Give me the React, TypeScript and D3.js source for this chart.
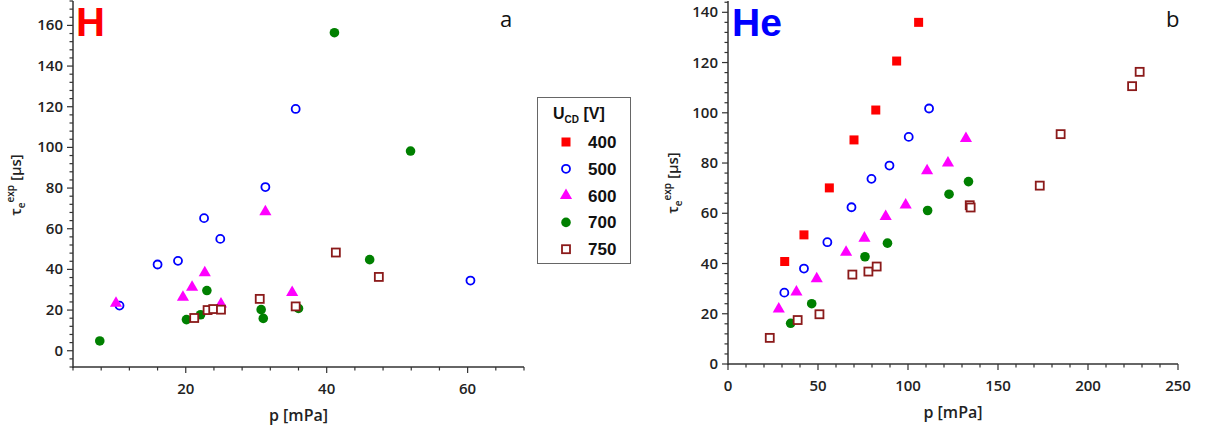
import React from "react";
import * as d3 from "d3";

type Pt = [number, number];

// H panel (a)
const H_500: Pt[] = [[10.6, 22.2], [16.0, 42.4], [18.9, 44.2], [22.6, 65.2], [24.9, 55.0], [31.3, 80.5], [35.6, 118.9], [60.4, 34.5]];
const H_600: Pt[] = [[10.1, 23.3], [19.6, 26.3], [20.9, 31.2], [22.7, 38.4], [25.0, 23.0], [31.3, 68.4], [35.1, 28.6]];
const H_700: Pt[] = [[7.8, 4.8], [20.1, 15.3], [22.1, 17.7], [23.0, 29.6], [30.7, 20.2], [31.0, 15.9], [36.0, 20.8], [41.1, 156.4], [46.1, 44.8], [51.9, 98.2]];
const H_750: Pt[] = [[21.2, 16.1], [23.1, 20.0], [23.9, 20.5], [25.0, 20.2], [30.5, 25.5], [35.6, 21.8], [41.3, 48.3], [47.4, 36.3]];

// He panel (b)
const He_400: Pt[] = [[31.5, 40.8], [42.2, 51.4], [56.3, 70.1], [70.0, 89.2], [82.1, 101.1], [93.7, 120.6], [105.9, 136.0]];
const He_500: Pt[] = [[31.3, 28.4], [42.2, 38.0], [55.2, 48.5], [68.6, 62.4], [79.7, 73.7], [89.7, 79.0], [100.4, 90.4], [111.7, 101.7]];
const He_600: Pt[] = [[28.2, 21.9], [38.0, 28.7], [49.3, 33.9], [65.6, 44.5], [75.8, 50.1], [87.6, 58.7], [98.7, 63.3], [110.6, 76.9], [122.2, 80.0], [132.2, 89.8]];
const He_700: Pt[] = [[34.8, 16.2], [46.5, 24.0], [76.1, 42.7], [88.6, 48.1], [110.9, 61.1], [122.8, 67.6], [133.6, 72.6]];
const He_750: Pt[] = [[23.2, 10.4], [38.7, 17.5], [50.8, 19.8], [69.1, 35.6], [78.0, 36.8], [82.6, 38.8], [134.3, 63.2], [134.8, 62.3], [173.2, 71.0], [184.8, 91.5], [224.5, 110.6], [228.7, 116.3]];

const legendLabels = ["400", "500", "600", "700", "750"];
const xTicksA = [20, 40, 60];
const yTicksA = [0, 20, 40, 60, 80, 100, 120, 140, 160];
const xTicksB = [0, 50, 100, 150, 200, 250];
const yTicksB = [0, 20, 40, 60, 80, 100, 120, 140];

const COLORS: Record<string, string> = {
  "400": "#ff0000",
  "500": "#0000ff",
  "600": "#ff00ff",
  "700": "#008000",
  "750": "#8b1a1a",
};

const FONT = "'Open Sans', sans-serif";

function Marker({ kind, x, y }: { kind: string; x: number; y: number }) {
  const c = COLORS[kind];
  if (kind === "400") return <rect x={x - 4.5} y={y - 4.5} width={9} height={9} fill={c} />;
  if (kind === "500") return <circle cx={x} cy={y} r={4} fill="none" stroke={c} strokeWidth={1.8} />;
  if (kind === "600") {
    const tri = d3.symbol().type(d3.symbolTriangle).size(64)();
    return <path d={tri as string} transform={`translate(${x},${y})`} fill={c} />;
  }
  if (kind === "700") return <circle cx={x} cy={y} r={4.8} fill={c} />;
  return <rect x={x - 4} y={y - 4} width={8} height={8} fill="white" stroke={c} strokeWidth={1.8} />;
}

function Panel(props: {
  x0: number; x1: number; y0: number; y1: number;
  xDom: [number, number]; yDom: [number, number];
  xTicks: number[]; yTicks: number[]; xMinor: number; yMinor: number;
  series: [string, Pt[]][];
  ylabelX: number; ylabelY: number;
}) {
  const { x0, x1, y0, y1, xDom, yDom, xTicks, yTicks, xMinor, yMinor, series } = props;
  const xs = d3.scaleLinear().domain(xDom).range([x0, x1]);
  const ys = d3.scaleLinear().domain(yDom).range([y1, y0]);
  const xMin = d3.range(Math.ceil(xDom[0] / xMinor) * xMinor, xDom[1] + 0.001, xMinor);
  const yMin = d3.range(Math.ceil(yDom[0] / yMinor) * yMinor, yDom[1] + 0.001, yMinor);
  return (
    <g>
      <line x1={x0} x2={x1} y1={y1} y2={y1} stroke="#333" strokeWidth={1.5} />
      <line x1={x0} x2={x0} y1={y0} y2={y1 + 1} stroke="#333" strokeWidth={1.5} />
      {xMin.map((v) => (
        <line key={"xm" + v} x1={xs(v)} x2={xs(v)} y1={y1} y2={y1 + (xTicks.includes(v) ? 6 : 3.5)} stroke="#333" strokeWidth={1.2} />
      ))}
      {yMin.map((v) => (
        <line key={"ym" + v} x1={x0} x2={x0 - (yTicks.includes(v) ? 6 : 3.5)} y1={ys(v)} y2={ys(v)} stroke="#333" strokeWidth={1.2} />
      ))}
      {xTicks.map((v) => (
        <text key={"xt" + v} x={xs(v)} y={y1 + 27} textAnchor="middle" fontFamily={FONT} fontWeight="600" fontSize={15} fill="#222">{v}</text>
      ))}
      {yTicks.map((v) => (
        <text key={"yt" + v} x={x0 - 10} y={ys(v) + 5} textAnchor="end" fontFamily={FONT} fontWeight="600" fontSize={15} fill="#222">{v}</text>
      ))}
      <text x={(x0 + x1) / 2} y={y1 + 54} textAnchor="middle" fontFamily={FONT} fontWeight="600" fontSize={16} fill="#222">p [mPa]</text>
      <text transform={`translate(${props.ylabelX},${props.ylabelY}) rotate(-90)`} textAnchor="middle" fontFamily={FONT} fontWeight="600" fontSize={15} fill="#222">
        <tspan>τ</tspan>
        <tspan fontSize={10} dy={4}>e</tspan>
        <tspan fontSize={10} dy={-11}>exp</tspan>
        <tspan dy={7}> [µs]</tspan>
      </text>
      {series.map(([k, pts]) =>
        pts.map((p, i) => <Marker key={k + i} kind={k} x={xs(p[0])} y={ys(p[1])} />)
      )}
    </g>
  );
}

export default function App() {
  return (
    <svg width={1206} height={437} style={{ position: "absolute", left: 0, top: 0, background: "white" }}>
      <rect x={0} y={0} width={1206} height={437} fill="white" />
      <Panel x0={73} x1={524} y0={1} y1={367} xDom={[4, 68]} yDom={[-8, 172]}
        xTicks={xTicksA} yTicks={yTicksA} xMinor={4} yMinor={4}
        series={[["500", H_500], ["600", H_600], ["700", H_700], ["750", H_750]]}
        ylabelX={21} ylabelY={185} />
      <Panel x0={728} x1={1178} y0={1} y1={364} xDom={[0, 250]} yDom={[0, 144.5]}
        xTicks={xTicksB} yTicks={yTicksB} xMinor={10} yMinor={4}
        series={[["400", He_400], ["500", He_500], ["600", He_600], ["700", He_700], ["750", He_750]]}
        ylabelX={678} ylabelY={183} />
      <text x={76} y={36} fontFamily="'Liberation Sans', Arial, sans-serif" fontWeight="bold" fontSize={40} fill="#ff0000">H</text>
      <text x={732} y={36} fontFamily="'Liberation Sans', Arial, sans-serif" fontWeight="bold" fontSize={39} fill="#0000ff">He</text>
      <text x={500} y={27} fontFamily={FONT} fontSize={22} fill="#111">a</text>
      <text x={1166} y={27} fontFamily={FONT} fontSize={22} fill="#111">b</text>
      <g>
        <rect x={537.5} y={97.5} width={93} height={166} fill="white" stroke="#666" strokeWidth={1} />
        <text x={553} y={119} fontFamily="'Liberation Sans', Arial, sans-serif" fontWeight="bold" fontSize={16} fill="#111">
          <tspan>U</tspan><tspan fontSize={10} dy={4}>CD</tspan><tspan dy={-4}> [V]</tspan>
        </text>
        {legendLabels.map((l, i) => {
          const y = 142 + i * 26.8;
          return (
            <g key={l}>
              <Marker kind={l} x={566} y={y} />
              <text x={588} y={y + 6} fontFamily="'Liberation Sans', Arial, sans-serif" fontWeight="bold" fontSize={17} fill="#111">{l}</text>
            </g>
          );
        })}
      </g>
    </svg>
  );
}
